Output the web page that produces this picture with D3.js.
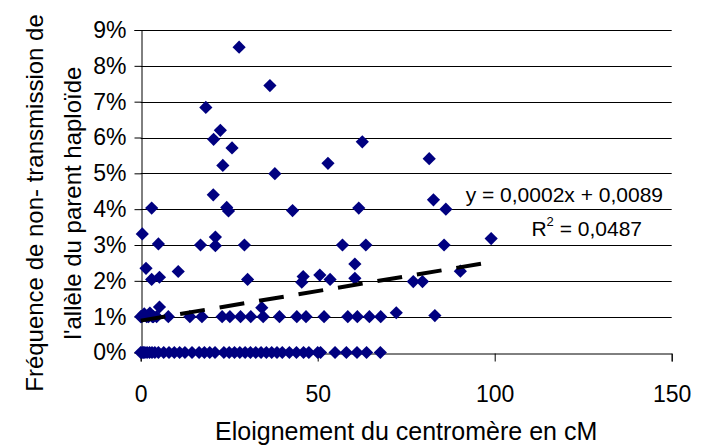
<!DOCTYPE html>
<html><head><meta charset="utf-8">
<script src="https://cdn.jsdelivr.net/npm/d3@7"></script>
<style>body{margin:0;background:#fff}svg{display:block}text{font-family:"Liberation Sans",Arial,sans-serif;fill:#000}</style>
</head><body>
<svg id="c" width="712" height="446"></svg>
<script>
// distance to centromere (cM)
const xVals = [
 // 0% row
 0,0.4,0.8,1.2,1.8,2.5,3.2,4,5,6.5,8,9.5,11,12.5,14.5,16.5,18,19.5,21,23.5,25,26.5,28,29.5,31,32.5,34,35.5,37,38.5,40,42,44,46,47.5,50,50.8,54.9,58.1,61.1,63.8,67.7,
 // ~1% row
 0,0.3,1.7,2.2,3.3,3.6,4.5,7.8,13.9,17.3,23,25.2,28.2,31.1,34.6,39.2,44.1,46.7,51.8,58.5,61.2,64.6,67.8,83.1,1.0,2.6,5.3,34.2,72.2,
 // higher values
 27.8,36.5,18.4,22.5,20.6,25.8,23.2,37.9,52.9,62.6,81.5,20.5,3.1,24.3,24.8,42.9,61.6,82.7,86.2,
 0.45,5.0,16.9,21.1,21.1,29.3,57.0,63.6,85.7,99.0,
 1.5,3.1,5.3,10.6,30.2,45.5,45.9,50.6,53.5,60.5,60.5,77.0,79.6,90.3
];
// non-transmission frequency (fraction)
const yVals = [
 0,0,0,0,0,0,0,0,0,0,0,0,0,0,0,0,0,0,0,0,0,0,0,0,0,0,0,0,0,0,0,0,0,0,0,0,0,0,0,0,0,0,
 0.0100,0.0100,0.0100,0.0100,0.0100,0.0100,0.0100,0.0100,0.0100,0.0100,0.0100,0.0100,0.0100,0.0100,0.0100,0.0100,0.0100,0.0100,0.0100,0.0100,0.0100,0.0100,0.0100,0.0103,0.0108,0.0110,0.0127,0.0125,0.0111,
 0.0852,0.0745,0.0684,0.0620,0.0595,0.0571,0.0522,0.0499,0.0528,0.0588,0.0541,0.0440,0.0403,0.0405,0.0395,0.0396,0.0403,0.0426,0.0400,
 0.0331,0.0303,0.0300,0.0322,0.0298,0.0300,0.0300,0.0300,0.0300,0.0318,
 0.0235,0.0204,0.0210,0.0226,0.0204,0.0196,0.0212,0.0216,0.0204,0.0247,0.0207,0.0198,0.0198,0.0227
];
const xTicks = [0,50,100,150];
const yTicks = [0,0.01,0.02,0.03,0.04,0.05,0.06,0.07,0.08,0.09];
const trendIntercept = 0.0089;
const trendSlope = 0.000165;
const eqLabel = "y = 0,0002x + 0,0089";
const r2Label = "0,0487";
const xTitle = "Eloignement du centromère en cM";
const yTitleLines = ["Fréquence de non- transmission de","l'allèle du parent haploïde"];

const svg = d3.select("#c");
const L=140.7, R=671.7, T=30, B=352.5;
const x = d3.scaleLinear().domain([0,150]).range([L,R]);
const y = d3.scaleLinear().domain([0,0.09]).range([B,T]);
const fmtY = d => Math.round(d*100)+"%";

// gridlines
svg.append("g").selectAll("line").data(yTicks.slice(1)).join("line")
  .attr("x1",L).attr("x2",R).attr("y1",d=>Math.round(y(d))+0.5).attr("y2",d=>Math.round(y(d))+0.5)
  .attr("stroke","#000").attr("stroke-width",1);

// axes
const xAxis = d3.axisBottom(x).tickValues(xTicks).tickSize(8).tickPadding(24).tickFormat(d3.format("d"));
const gx = svg.append("g").attr("transform",`translate(0,${Math.round(B)+0.5})`).call(xAxis);
const yAxis = d3.axisLeft(y).tickValues(yTicks).tickSize(7).tickPadding(8).tickFormat(fmtY);
const gy = svg.append("g").attr("transform",`translate(${Math.round(L)+0.5},0)`).call(yAxis);
[gx,gy].forEach(g=>{
  g.select(".domain").attr("stroke","#000");
  g.selectAll(".tick line").attr("stroke","#000");
  g.selectAll("text").attr("font-size",23).attr("font-family","Liberation Sans, Arial, sans-serif").attr("fill","#000");
});

// points
const pts = xVals.map((v,i)=>({x:v,y:yVals[i]}));
const r = 6.6;
const diamond = `M0,${-r}L${r},0L0,${r}L${-r},0Z`;
svg.append("g").selectAll("path").data(pts).join("path")
  .attr("d",diamond).attr("transform",d=>`translate(${x(d.x)},${y(d.y)})`)
  .attr("fill","#000080");

// trendline
const xmin = d3.min(xVals), xmax = d3.max(xVals);
const trend = [xmin,xmax].map(v=>({x:v,y:trendIntercept+trendSlope*v}));
svg.append("path").datum(trend)
  .attr("d",d3.line().x(d=>x(d.x)).y(d=>y(d.y)))
  .attr("stroke","#000").attr("stroke-width",4).attr("stroke-dasharray","25,15").attr("fill","none");

// equation
svg.append("text").attr("x",663).attr("y",202).attr("text-anchor","end").attr("font-size",21).text(eqLabel);
const r2 = svg.append("text").attr("x",642).attr("y",236).attr("text-anchor","end").attr("font-size",21);
r2.append("tspan").text("R");
r2.append("tspan").attr("font-size",13).attr("dy",-10).text("2");
r2.append("tspan").attr("dy",10).text(" = "+r2Label);

// titles
svg.append("text").attr("x",(L+R)/2).attr("y",440).attr("text-anchor","middle").attr("font-size",25).text(xTitle);
const yt = svg.append("text").attr("transform","translate(0,203) rotate(-90)").attr("text-anchor","middle").attr("font-size",24);
yt.selectAll("tspan").data(yTitleLines).join("tspan").attr("x",0).attr("y",(d,i)=>43+i*38).text(d=>d);
</script>
</body></html>
